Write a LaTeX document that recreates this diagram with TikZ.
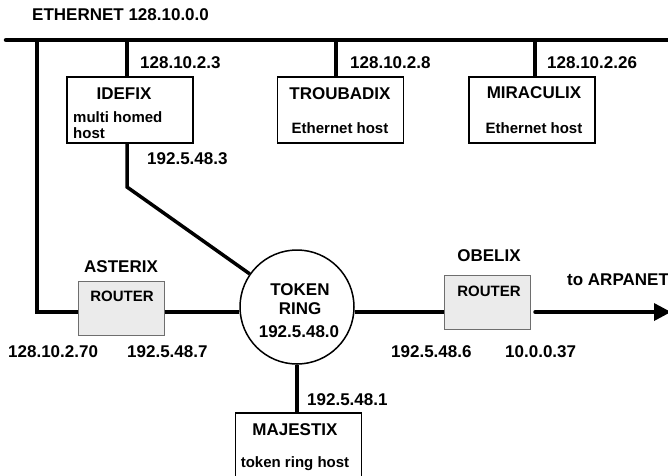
\documentclass[tikz,border=0pt]{standalone}
\usepackage{fontspec}
\setmainfont{Liberation Sans}
\usetikzlibrary{arrows.meta,positioning,calc}
\definecolor{routerfill}{RGB}{235,235,235}
\definecolor{routerdraw}{RGB}{110,110,110}

\begin{document}
\begin{tikzpicture}[
  x=1pt,y=-1pt,
  font=\bfseries\fontsize{17}{19}\selectfont,
  host/.style={draw,line width=1.5pt,minimum width=126pt,minimum height=66pt,inner sep=0pt},
  router/.style={draw=routerdraw,fill=routerfill,line width=1pt,minimum width=86pt,minimum height=54pt,inner sep=0pt},
  ringnode/.style={draw,circle,line width=1.5pt,minimum size=114pt,inner sep=0pt},
  txt/.style={inner sep=0pt},
  addr/.style={txt,anchor=west},
  small/.style={font=\bfseries\fontsize{15}{17}\selectfont},
  bus/.style={line width=4.5pt,line cap=round},
  link/.style={line width=3.5pt},
  uplink/.style={line width=3.5pt,line cap=round,-{Triangle[length=17pt,width=17pt]}}
]
  \useasboundingbox (0,0) rectangle (668,475);

  % ethernet backbone
  \coordinate (ethW) at (6,40);
  \coordinate (ethE) at (672,40);
  \draw[bus] (ethW) -- (ethE);
  \node[addr] (ethlbl) at (32,15) {ETHERNET 128.10.0.0};

  % ethernet hosts
  \node[host] (idefix) at (130,110) {};
  \node[host] (troubadix) at (340.5,110) {};
  \node[host] (miraculix) at (532,110) {};
  \node[txt] (idefixname) at (124,94) {IDEFIX};
  \node[txt,small,anchor=west] (idefixsub1) at (73,117) {multi homed};
  \node[txt,small,anchor=west] (idefixsub2) at (73,133) {host};
  \node[txt] (troubname) at (340,94) {TROUBADIX};
  \node[txt,small] (troubsub) at (340,128) {Ethernet host};
  \node[txt] (miraname) at (534,93) {MIRACULIX};
  \node[txt,small] (mirasub) at (534,128) {Ethernet host};

  \coordinate (tapL) at (37,40);
  \coordinate (tapA) at (127,40);
  \coordinate (tapB) at (336,40);
  \coordinate (tapC) at (535,40);
  \draw[link] (tapA) -- (tapA |- idefix.north);
  \draw[link] (tapB) -- (tapB |- troubadix.north);
  \draw[link] (tapC) -- (tapC |- miraculix.north);
  \node[addr] (ipA) at (140,63) {128.10.2.3};
  \node[addr] (ipB) at (350,63) {128.10.2.8};
  \node[addr] (ipC) at (547,63) {128.10.2.26};

  % token ring
  \node[ringnode] (ring) at (297,307) {};
  \node[txt] (ringa) at (300,290) {TOKEN};
  \node[txt] (ringb) at (300,309) {RING};
  \node[txt] (ringc) at (299,332) {192.5.48.0};

  \coordinate (bendA) at (127,187);
  \draw[link] (tapA |- idefix.south) -- (bendA) -- (ring.145);
  \node[addr] (ipD) at (147,159) {192.5.48.3};

  % routers
  \node[router] (asterix) at (121,308) {};
  \node[txt] (astername) at (121,267) {ASTERIX};
  \node[txt,small] (asterrt) at (122,296) {ROUTER};
  \draw[link] (tapL) |- ([yshift=-4pt]asterix.west);
  \draw[link] ([yshift=-4pt]asterix.east) -- ([yshift=-4pt]asterix.east -| ring.west);
  \node[addr] (ipE) at (8,352) {128.10.2.70};
  \node[addr] (ipF) at (127,352) {192.5.48.7};

  \node[router] (obelix) at (487.5,302) {};
  \node[txt] (obename) at (489,256) {OBELIX};
  \node[txt,small] (oberc) at (489,291) {ROUTER};
  \draw[link] ([yshift=-10pt]obelix.west -| ring.east) -- ([yshift=-10pt]obelix.west);
  \coordinate (arpa) at (671,312);
  \draw[uplink] ([xshift=4pt,yshift=-10pt]obelix.east) -- (arpa);
  \node[addr] (arpalbl) at (567,280) {to ARPANET};
  \node[addr] (ipG) at (391,352) {192.5.48.6};
  \node[addr] (ipH) at (505,352) {10.0.0.37};

  % token ring host
  \node[host,minimum height=70pt] (majestix) at (298.5,448) {};
  \draw[link] (ring.south) -- (ring.south |- majestix.north);
  \node[txt] (majname) at (295,430) {MAJESTIX};
  \node[txt,small] (majsub) at (295,464) {token ring host};
  \node[addr] (ipI) at (307,400) {192.5.48.1};
\end{tikzpicture}
\end{document}
